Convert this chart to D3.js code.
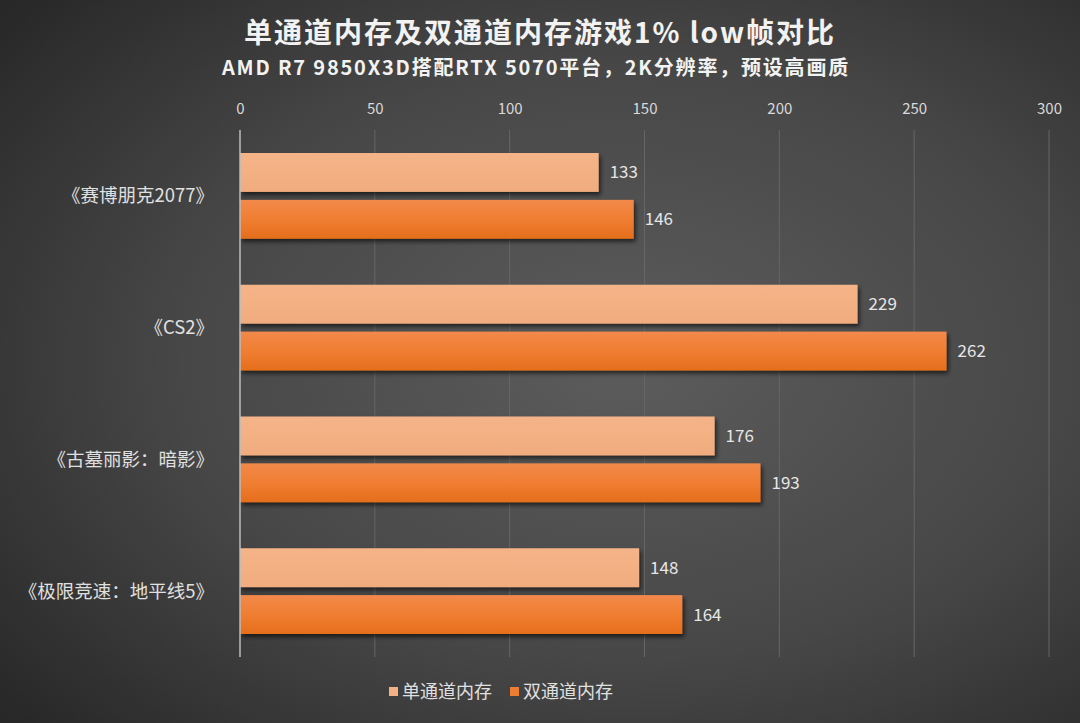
<!DOCTYPE html>
<html>
<head>
<meta charset="utf-8">
<script src="https://cdn.jsdelivr.net/npm/d3@7"></script>
<style>
  html, body { margin: 0; padding: 0; background: #3a3a3a; }
  svg text { font-family: "Noto Sans CJK SC", "Noto Sans", sans-serif; }
</style>
</head>
<body>
<div id="chart"></div>
<script>
// chart data
const games = ["《赛博朋克2077》", "《CS2》", "《古墓丽影：暗影》", "《极限竞速：地平线5》"];
const seriesNames = ["单通道内存", "双通道内存"];
const singleChannel = [133, 229, 176, 148];
const dualChannel = [146, 262, 193, 164];
const xTicks = [0, 50, 100, 150, 200, 250, 300];

const W = 1080, H = 723;
const margin = {top: 130, right: 31, bottom: 66, left: 240};

const svg = d3.select("#chart").append("svg")
    .attr("width", W)
    .attr("height", H);

// background gradient + bar styles
const defs = svg.append("defs");
const bg = defs.append("radialGradient").attr("id", "bg")
    .attr("cx", "58%").attr("cy", "50%").attr("r", "75%");
bg.append("stop").attr("offset", "0%").attr("stop-color", "#5c5c5c");
bg.append("stop").attr("offset", "55%").attr("stop-color", "#474747");
bg.append("stop").attr("offset", "100%").attr("stop-color", "#282828");

const darkGrad = defs.append("linearGradient").attr("id", "darkBar")
    .attr("x1", 0).attr("y1", 0).attr("x2", 0).attr("y2", 1);
darkGrad.append("stop").attr("offset", "0%").attr("stop-color", "#f2894a");
darkGrad.append("stop").attr("offset", "50%").attr("stop-color", "#f07e32");
darkGrad.append("stop").attr("offset", "100%").attr("stop-color", "#e56e1c");

const lightGrad = defs.append("linearGradient").attr("id", "lightBar")
    .attr("x1", 0).attr("y1", 0).attr("x2", 0).attr("y2", 1);
lightGrad.append("stop").attr("offset", "0%").attr("stop-color", "#f5b488");
lightGrad.append("stop").attr("offset", "100%").attr("stop-color", "#f0ac7e");

const shadow = defs.append("filter").attr("id", "shadow")
    .attr("x", "-5%").attr("y", "-20%").attr("width", "115%").attr("height", "160%");
shadow.append("feDropShadow")
    .attr("dx", 2).attr("dy", 3).attr("stdDeviation", 2)
    .attr("flood-color", "#000").attr("flood-opacity", 0.6);

svg.append("rect").attr("width", W).attr("height", H).attr("fill", "url(#bg)");

// titles
svg.append("text")
    .attr("x", 540).attr("y", 43)
    .attr("text-anchor", "middle")
    .attr("fill", "#f2f2f2")
    .attr("font-size", 28)
    .attr("font-weight", "bold")
    .attr("letter-spacing", 2)
    .text("单通道内存及双通道内存游戏1% low帧对比");

svg.append("text")
    .attr("x", 536).attr("y", 75)
    .attr("text-anchor", "middle")
    .attr("fill", "#f2f2f2")
    .attr("font-size", 20)
    .attr("font-weight", "bold")
    .attr("letter-spacing", 1.8)
    .text("AMD R7 9850X3D搭配RTX 5070平台，2K分辨率，预设高画质");

// scales
const x = d3.scaleLinear()
    .domain([0, 300])
    .range([margin.left, W - margin.right]);

const y = d3.scaleBand()
    .domain(games)
    .range([margin.top, H - margin.bottom]);

const ySub = d3.scaleBand()
    .domain(seriesNames)
    .range([23, y.bandwidth() - 23])
    .paddingInner(0.17);

// gridlines
svg.append("g")
    .selectAll("line")
    .data(xTicks.slice(1))
    .join("line")
    .attr("x1", d => x(d)).attr("x2", d => x(d))
    .attr("y1", margin.top).attr("y2", H - margin.bottom)
    .attr("stroke", "#666")
    .attr("stroke-width", 1);

// top axis with tick labels
const xAxis = d3.axisTop(x).tickValues(xTicks).tickSize(0).tickPadding(0);
const xAxisG = svg.append("g")
    .attr("transform", "translate(0," + 114 + ")")
    .call(xAxis);
xAxisG.select(".domain").remove();
xAxisG.selectAll("text")
    .attr("fill", "#d9d9d9")
    .attr("font-size", 15);

// bars
const rows = games.map((g, i) => ({game: g, values: [singleChannel[i], dualChannel[i]]}));
const fills = ["url(#lightBar)", "url(#darkBar)"];

const groups = svg.append("g").selectAll("g")
    .data(rows)
    .join("g")
    .attr("transform", d => "translate(0," + y(d.game) + ")");

groups.selectAll("rect")
    .data(d => d.values.map((v, j) => ({series: seriesNames[j], value: v, j: j})))
    .join("rect")
    .attr("x", x(0))
    .attr("y", d => ySub(d.series))
    .attr("width", d => x(d.value) - x(0))
    .attr("height", ySub.bandwidth())
    .attr("fill", d => fills[d.j])
    .attr("filter", "url(#shadow)");

groups.selectAll("text.val")
    .data(d => d.values.map((v, j) => ({series: seriesNames[j], value: v})))
    .join("text")
    .attr("class", "val")
    .attr("x", d => x(d.value) + 11)
    .attr("y", d => ySub(d.series) + ySub.bandwidth() / 2)
    .attr("dy", "0.35em")
    .attr("fill", "#e6e6e6")
    .attr("font-size", 17)
    .text(d => d.value);

// vertical axis line + category labels
svg.append("line")
    .attr("x1", x(0)).attr("x2", x(0))
    .attr("y1", margin.top).attr("y2", H - margin.bottom)
    .attr("stroke", "#bdbdbd")
    .attr("stroke-width", 1.5);

svg.append("g").selectAll("text")
    .data(games)
    .join("text")
    .attr("x", 214)
    .attr("y", d => y(d) + y.bandwidth() / 2)
    .attr("dy", "0.35em")
    .attr("text-anchor", "end")
    .attr("fill", "#e0e0e0")
    .attr("font-size", 18.5)
    .text(d => d);

// legend
const legendColors = ["#f4b183", "#ed7d31"];
const legend = svg.append("g").attr("transform", "translate(389,692)");
const legendX = [0, 121];
seriesNames.forEach((name, i) => {
    legend.append("rect")
        .attr("x", legendX[i]).attr("y", -5)
        .attr("width", 9).attr("height", 9)
        .attr("fill", legendColors[i]);
    legend.append("text")
        .attr("x", legendX[i] + 13).attr("y", 0)
        .attr("dy", "0.35em")
        .attr("fill", "#e0e0e0")
        .attr("font-size", 18)
        .text(name);
});
</script>
</body>
</html>
